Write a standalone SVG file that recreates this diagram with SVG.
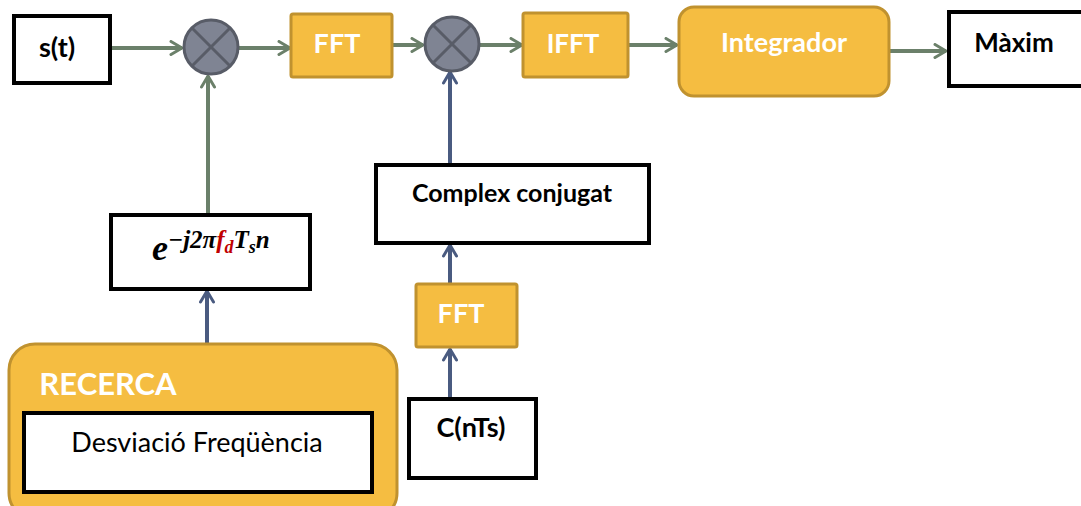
<svg xmlns="http://www.w3.org/2000/svg" width="1081" height="506" viewBox="0 0 1081 506">
<defs>
<style>
.wbox{fill:#fff;stroke:#000;stroke-width:4}
.obox{fill:#F5BD41;stroke:#C0922F;stroke-width:3}
.mult{fill:#7F8493;stroke:#585C67;stroke-width:3}
.x{stroke:#585C67;stroke-width:3}
.g{stroke:#6B806A;stroke-width:4;fill:none}
.b{stroke:#4A5B80;stroke-width:4;fill:none}
.t{font-family:"Lato","Open Sans",sans-serif;fill:#000;text-anchor:middle}
.wt{font-family:"Lato","Open Sans",sans-serif;fill:#fff;font-weight:bold;text-anchor:middle}
.m{font-family:"Liberation Serif","DejaVu Serif",serif;font-weight:bold;font-style:italic}
</style>
<marker id="ag" viewBox="0 0 16 16" refX="14" refY="8" markerWidth="16" markerHeight="16" markerUnits="userSpaceOnUse" orient="auto">
<path d="M3,1.5 L14,8 L3,14.5" fill="none" stroke="#6B806A" stroke-width="3" stroke-linecap="round" stroke-linejoin="round"/>
</marker>
<marker id="ab" viewBox="0 0 16 16" refX="14" refY="8" markerWidth="16" markerHeight="16" markerUnits="userSpaceOnUse" orient="auto">
<path d="M3,1.5 L14,8 L3,14.5" fill="none" stroke="#4A5B80" stroke-width="3" stroke-linecap="round" stroke-linejoin="round"/>
</marker>
</defs>
<rect width="1081" height="506" fill="#fff"/>
<g id="connectors">
<line class="g" x1="110" y1="48" x2="182" y2="48" marker-end="url(#ag)"/>
<line class="g" x1="239" y1="48" x2="290" y2="48" marker-end="url(#ag)"/>
<line class="g" x1="392" y1="45" x2="423" y2="45" marker-end="url(#ag)"/>
<line class="g" x1="480" y1="45" x2="522" y2="45" marker-end="url(#ag)"/>
<line class="g" x1="628" y1="45" x2="677" y2="45" marker-end="url(#ag)"/>
<line class="g" x1="889" y1="51" x2="946" y2="51" marker-end="url(#ag)"/>
<line class="g" x1="208" y1="215" x2="208" y2="76" marker-end="url(#ag)"/>
<line class="b" x1="207" y1="412" x2="207" y2="291" marker-end="url(#ab)"/>
<line class="b" x1="450" y1="164" x2="450" y2="72" marker-end="url(#ab)"/>
<line class="b" x1="450" y1="284" x2="450" y2="245" marker-end="url(#ab)"/>
<line class="b" x1="450" y1="398" x2="450" y2="349" marker-end="url(#ab)"/>
</g>
<g id="st"><rect class="wbox" x="14" y="16" width="96" height="67"/><text class="t" x="57" y="57" font-size="27" font-weight="bold">s(t)</text></g>
<g id="mult1"><circle class="mult" cx="211" cy="47" r="27"/><line class="x" x1="192" y1="28" x2="230" y2="66"/><line class="x" x1="230" y1="28" x2="192" y2="66"/></g>
<g id="fft1"><rect class="obox" x="291" y="14" width="101" height="63" rx="2"/><text class="wt" x="337" y="53" font-size="27">FFT</text></g>
<g id="mult2"><circle class="mult" cx="452" cy="44" r="27"/><line class="x" x1="433" y1="25" x2="471" y2="63"/><line class="x" x1="471" y1="25" x2="433" y2="63"/></g>
<g id="ifft"><rect class="obox" x="523" y="13" width="105" height="64" rx="2"/><text class="wt" x="573" y="53" font-size="26">IFFT</text></g>
<g id="integrador"><rect class="obox" x="679" y="7" width="210" height="89" rx="15"/><text class="wt" x="784" y="52" font-size="27">Integrador</text></g>
<g id="maxim"><rect class="wbox" x="949" y="12" width="140" height="74"/><text class="t" x="1014" y="52" font-size="26" font-weight="bold">Màxim</text></g>
<g id="exp"><rect class="wbox" x="111" y="215" width="199" height="74"/>
<text class="m" x="152" y="260" font-size="36">e<tspan font-size="25" dy="-12">−j2π</tspan><tspan font-size="25" fill="#C00000">f</tspan><tspan font-size="18" fill="#C00000" dy="5">d</tspan><tspan font-size="25" dy="-5">T</tspan><tspan font-size="18" dy="5">s</tspan><tspan font-size="25" dy="-5">n</tspan></text></g>
<g id="recerca"><rect class="obox" x="9" y="344" width="388" height="175" rx="26"/><text class="wt" x="108" y="395" font-size="31">RECERCA</text></g>
<g id="desviacio"><rect class="wbox" x="24" y="413" width="348" height="79"/><text class="t" x="197" y="452" font-size="27">Desviació Freqüència</text></g>
<g id="complex"><rect class="wbox" x="376" y="165" width="273" height="78"/><text class="t" x="512" y="202" font-size="25" font-weight="bold">Complex conjugat</text></g>
<g id="fft2"><rect class="obox" x="416" y="284" width="101" height="63" rx="2"/><text class="wt" x="461" y="323" font-size="27">FFT</text></g>
<g id="cnts"><rect class="wbox" x="409" y="399" width="127" height="79"/><text class="t" x="471" y="437" font-size="27" font-weight="bold">C(nTs)</text></g>
</svg>
